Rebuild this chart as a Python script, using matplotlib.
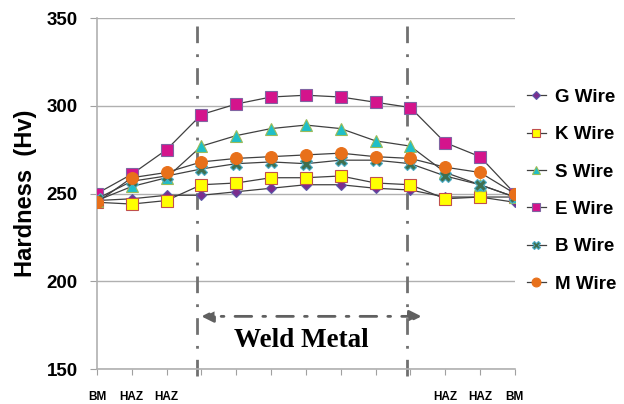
import numpy as np
import matplotlib
matplotlib.use("Agg")
import matplotlib.pyplot as plt

# positions along the weld cross-section
positions = np.arange(13)
tick_labels = ["BM", "HAZ", "HAZ", "", "", "", "", "", "", "", "HAZ", "HAZ", "BM"]

# hardness values (Hv)
g_wire = [246, 247, 249, 249, 251, 253, 255, 255, 253, 252, 248, 248, 245]
k_wire = [245, 244, 246, 255, 256, 259, 259, 260, 256, 255, 247, 248, 248]
s_wire = [246, 254, 259, 277, 283, 287, 289, 287, 280, 277, 262, 255, 248]
e_wire = [250, 261, 275, 295, 301, 305, 306, 305, 302, 299, 279, 271, 250]
b_wire = [247, 257, 260, 264, 267, 268, 267, 269, 269, 267, 260, 255, 248]
m_wire = [245, 259, 262, 268, 270, 271, 272, 273, 271, 270, 265, 262, 250]

series = [
    ("G Wire", g_wire, "D", "#7b2d8e", "#5a5aa8", 5.5),
    ("K Wire", k_wire, "s", "#ffff00", "#c0504d", 8),
    ("S Wire", s_wire, "^", "#1fbfc8", "#9bbb59", 8),
    ("E Wire", e_wire, "s", "#d4148c", "#8064a2", 8),
    ("B Wire", b_wire, "X", "#3f6f4f", "#4bacc6", 8),
    ("M Wire", m_wire, "o", "#e8701a", "#e8701a", 8.5),
]

sans = "Liberation Sans"

fig = plt.figure(figsize=(6.24, 4.04), dpi=100)
ax = fig.add_axes([0.1554, 0.0866, 0.6696, 0.8688])

for name, vals, mk, fc, ec, ms in series:
    ax.plot(positions, vals, color="#404040", lw=0.9, marker=mk, ms=ms,
            mfc=fc, mec=ec, mew=0.8, label=name, zorder=3)

ax.set_xlim(0, 12)
ax.set_ylim(150, 350)
ax.set_yticks([150, 200, 250, 300, 350])
ax.set_xticks(positions)
ax.set_xticklabels(tick_labels, fontsize=8.5, fontweight="bold", family=sans)
for t in ax.get_yticklabels():
    t.set_fontsize(13.5)
    t.set_fontweight("bold")
    t.set_family(sans)
ax.tick_params(axis="y", color="#a0a0a0", length=5, pad=9)
ax.tick_params(axis="x", color="#a0a0a0", length=4, pad=12)
ax.grid(axis="y", color="#b0b0b0", lw=1.0, zorder=0)
for s in ["top", "right"]:
    ax.spines[s].set_visible(False)
for s in ["left", "bottom"]:
    ax.spines[s].set_color("#b0b0b0")
    ax.spines[s].set_linewidth(1.2)

ax.set_ylabel("Hardness  (Hv)", fontsize=17, fontweight="bold", family=sans,
              labelpad=7)

# weld metal boundaries
for xb in [2.88, 8.9]:
    ax.plot([xb, xb], [150 - 4, 350], color="#707070", lw=2, ls=(0, (6, 4, 1, 4)),
            clip_on=False, zorder=2)

ax.annotate("", xy=(2.92, 180), xytext=(9.4, 180),
            arrowprops=dict(arrowstyle="<|-|>", color="#606060", lw=2,
                            ls=(0, (6, 4, 1, 4)), mutation_scale=18))
ax.text(5.88, 166, "Weld Metal", ha="center", va="center", fontsize=19.5,
        fontweight="bold", family="Liberation Serif", color="black")

leg = ax.legend(loc="upper left", bbox_to_anchor=(1.0, 0.833), frameon=False,
                prop={"size": 13.5, "weight": "bold", "family": sans},
                labelspacing=1.08, handlelength=1.0, handletextpad=0.5,
                markerscale=0.75, borderaxespad=0.24)

fig.savefig("out.png", dpi=100)
